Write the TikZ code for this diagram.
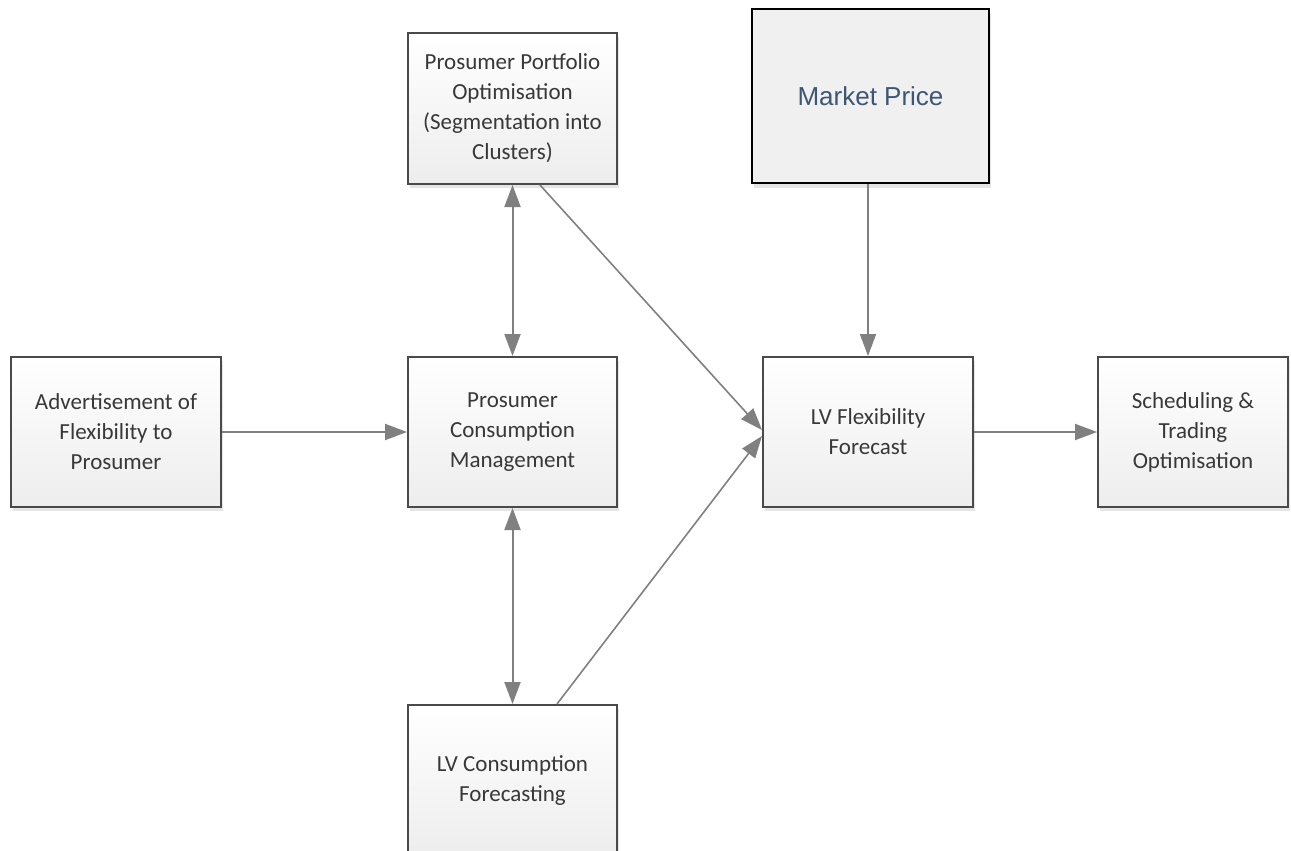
\documentclass[tikz,border=0pt]{standalone}
\usepackage{fontspec}
\setmainfont{Carlito}
\newfontfamily\pricefont{Liberation Sans}
\usetikzlibrary{arrows.meta,calc,shadows}
\definecolor{boxline}{HTML}{4A4A4A}
\definecolor{boxtext}{HTML}{383838}
\definecolor{linkgray}{HTML}{808080}
\definecolor{pricetext}{HTML}{3E5675}
\tikzset{
  procbox/.style={draw=boxline, line width=2pt, top color=white, bottom color=black!7,
    text=boxtext, align=center, inner sep=0pt,
    font=\fontsize{23}{30}\selectfont,
    drop shadow={shadow xshift=2pt, shadow yshift=-4pt, fill=black, opacity=0.10}},
  pricebox/.style={draw=black, line width=2.5pt, fill=black!6, text=pricetext,
    align=center, inner sep=0pt, font=\pricefont\fontsize{26}{31}\selectfont,
    drop shadow={shadow xshift=2pt, shadow yshift=-5pt, fill=black, opacity=0.10}},
  link/.style={draw=linkgray, line width=2pt, -{Triangle[length=22pt,width=16pt]}},
  duallink/.style={draw=linkgray, line width=2pt,
    {Triangle[length=22pt,width=16pt]}-{Triangle[length=22pt,width=16pt]}},
  thinlink/.style={draw=linkgray, line width=1.6pt, -{Triangle[length=22pt,width=16pt]}},
}
\begin{document}
\begin{tikzpicture}[x=1pt,y=-1pt]
\useasboundingbox (0,0) rectangle (1291,851);
\begin{scope}
\clip (0,0) rectangle (1291,851);
% process boxes
\node[procbox, minimum width=210pt, minimum height=150pt] (adv) at (116,432)
  {Advertisement of\\Flexibility to\\Prosumer};
\node[procbox, minimum width=209pt, minimum height=151pt] (port) at (512.5,108.5)
  {Prosumer Portfolio\\Optimisation\\(Segmentation into\\Clusters)};
\node[procbox, minimum width=209pt, minimum height=150pt] (mgmt) at (512.5,432)
  {Prosumer\\Consumption\\Management};
\node[procbox, minimum width=209pt, minimum height=152pt] (cons) at (512.5,781)
  {LV Consumption\\Forecasting};
\node[procbox, minimum width=210pt, minimum height=150pt] (flex) at (868,432)
  {LV Flexibility\\Forecast};
\node[procbox, minimum width=190pt, minimum height=150pt] (sched) at (1193,432)
  {Scheduling \&\\Trading\\Optimisation};
\node[pricebox, minimum width=237pt, minimum height=174pt] (price) at (870.5,96)
  {Market Price};
\end{scope}
% connectors
\draw[link] (adv.east) -- (mgmt.west);
\draw[link] (flex.east) -- (sched.west);
\draw[link] (price.south -| flex.north) -- (flex.north);
\draw[duallink] (port.south) -- (mgmt.north);
\draw[duallink] (mgmt.south) -- (cons.north);
\draw[thinlink] ($(port.south)+(27.5,0)$) -- ($(flex.west)+(0,-2)$);
\draw[thinlink] ($(cons.north)+(44.5,0)$) -- ($(flex.west)+(0,4)$);
\end{tikzpicture}
\end{document}
